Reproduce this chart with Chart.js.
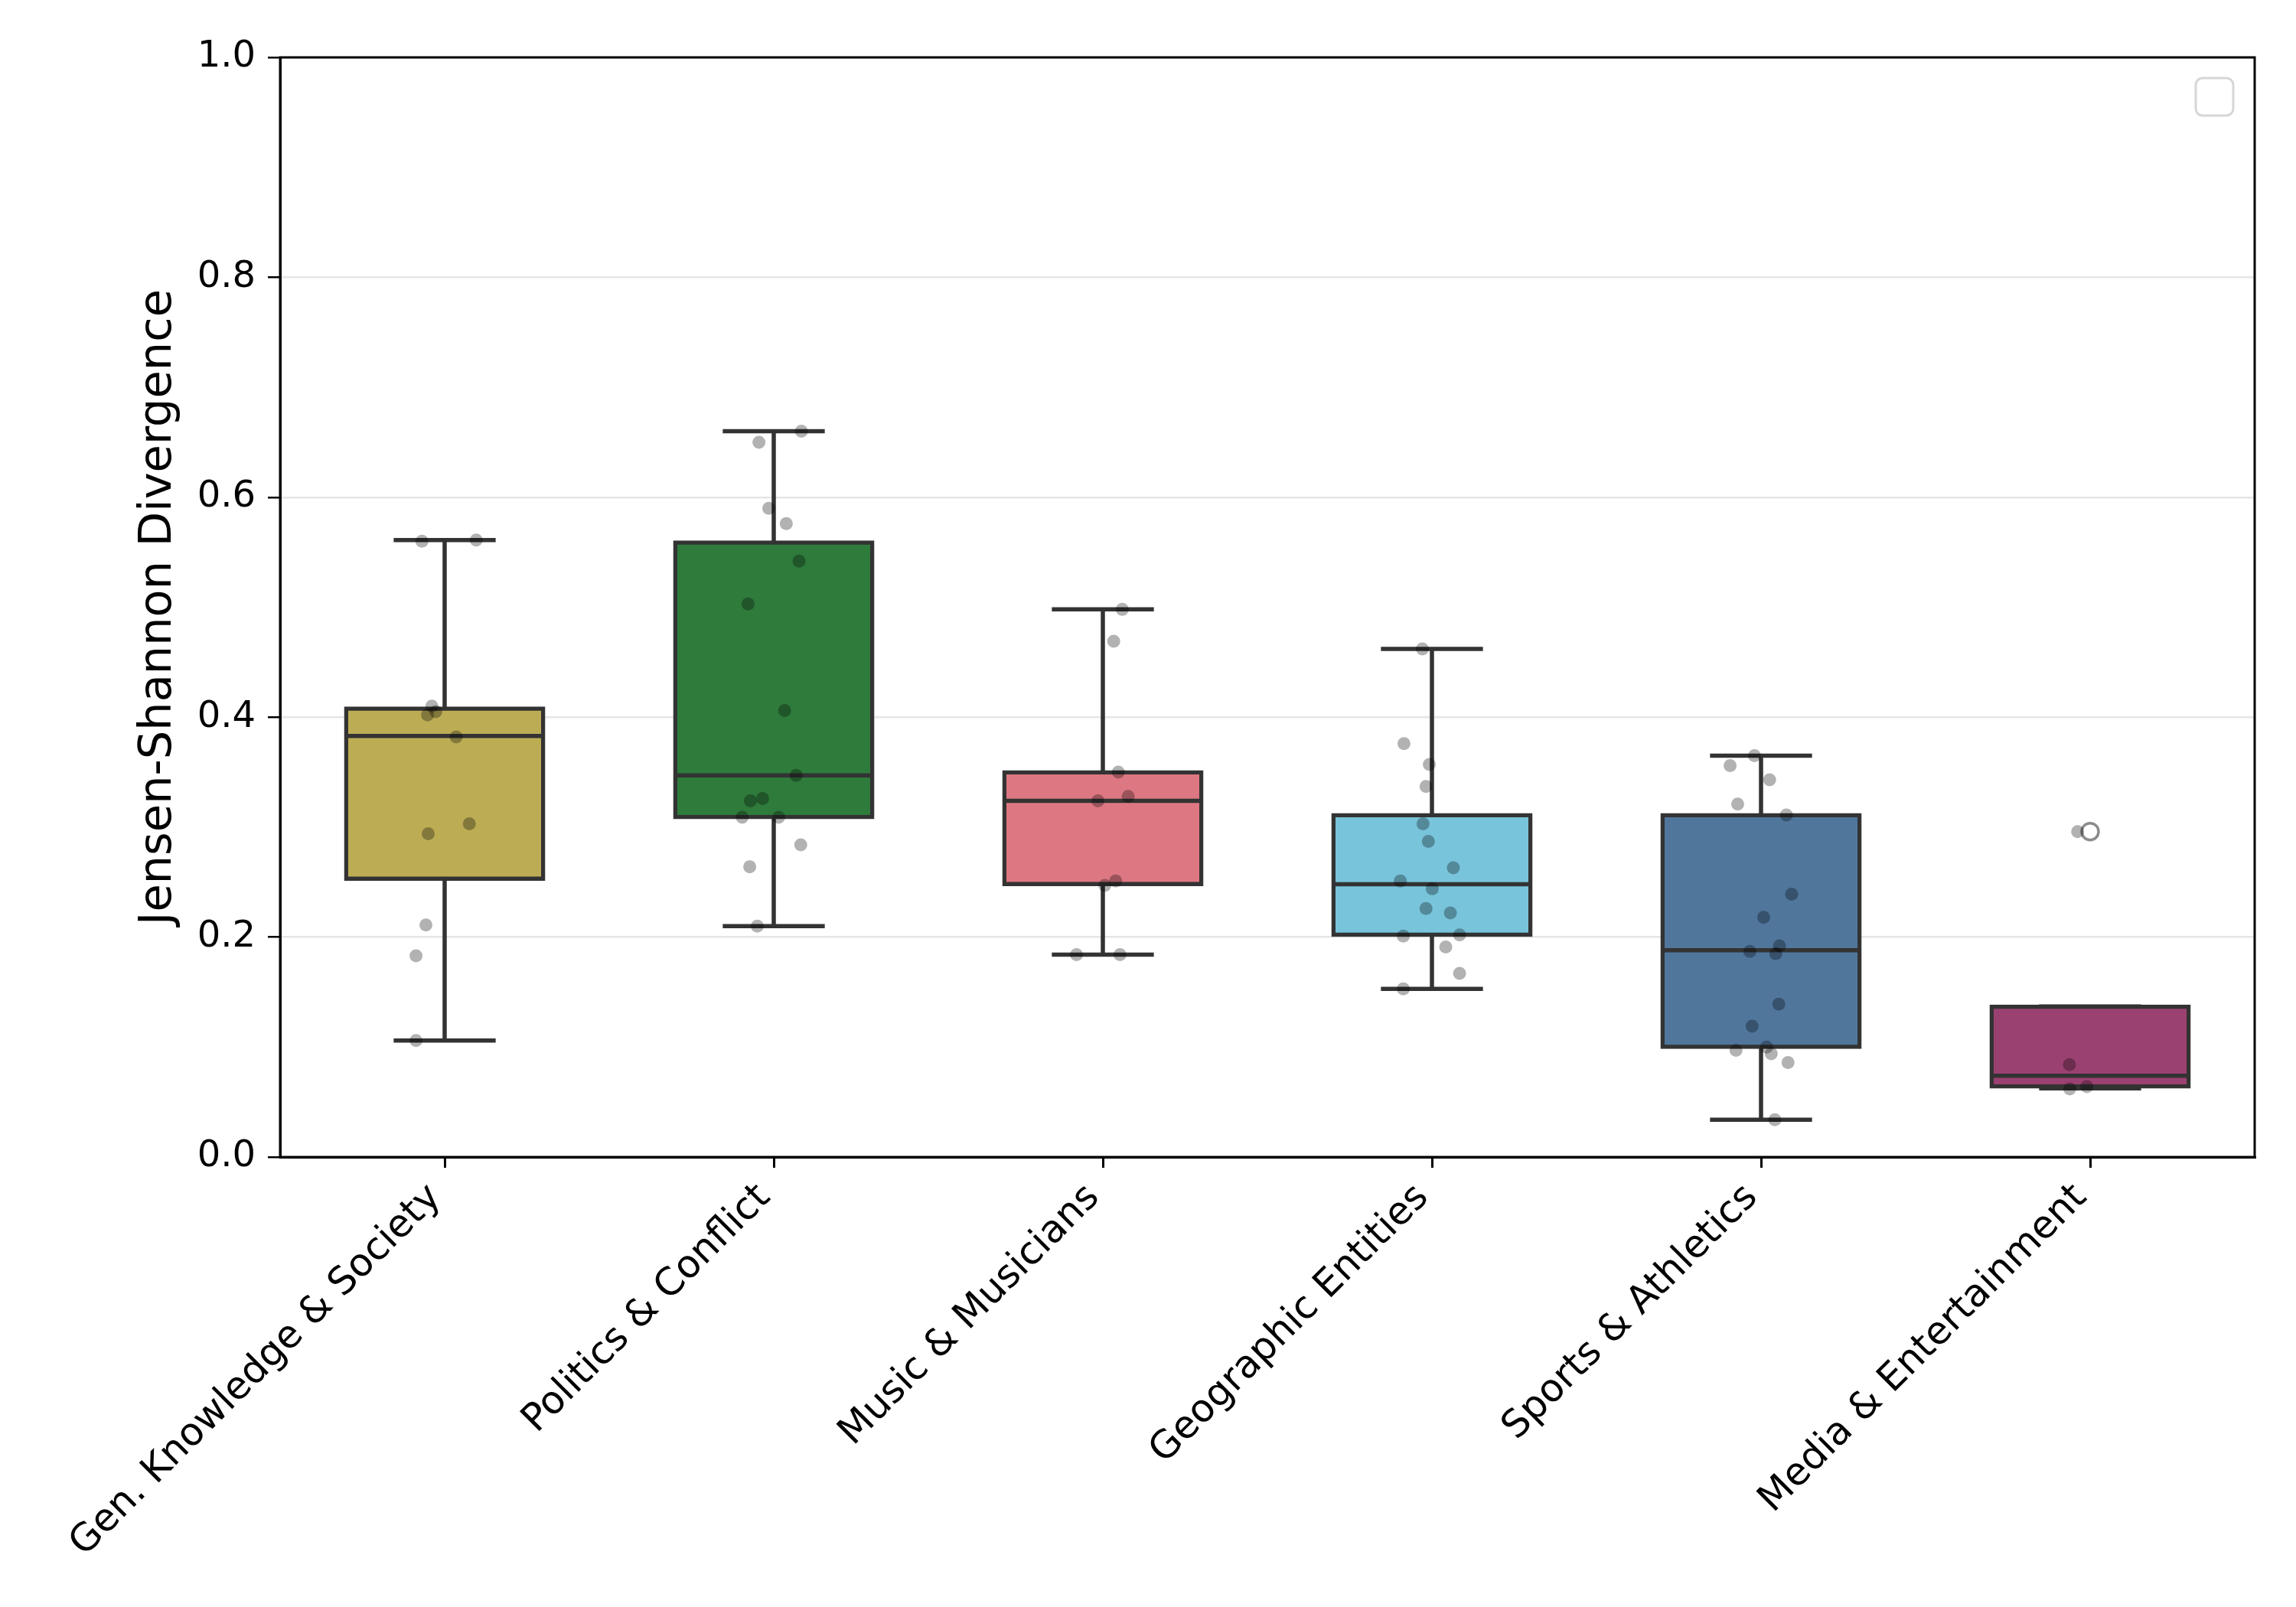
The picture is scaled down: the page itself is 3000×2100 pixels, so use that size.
<!DOCTYPE html>
<html>
<head>
<meta charset="utf-8">
<script src="https://cdn.jsdelivr.net/npm/chart.js@4.4.1/dist/chart.umd.min.js"></script>
<style>
  body { margin: 0; background: #fff; }
  #c { display: block; }
</style>
</head>
<body>
<canvas id="c" width="3000" height="2100" style="width:3000px;height:2100px"></canvas>
<script>
const categories = ['Gen. Knowledge & Society', 'Politics & Conflict', 'Music & Musicians',
  'Geographic Entities', 'Sports & Athletics', 'Media & Entertainment'];
const boxColors = ['#bcad55', '#2e7b3c', '#dd7782', '#78c4db', '#50769c', '#9b4172'];

// box statistics
const q1 = [0.253, 0.309, 0.248, 0.202, 0.100, 0.064];
const median = [0.383, 0.347, 0.324, 0.248, 0.188, 0.074];
const q3 = [0.408, 0.559, 0.350, 0.311, 0.311, 0.137];
const whiskerLow = [0.106, 0.210, 0.184, 0.153, 0.034, 0.0625];
const whiskerHigh = [0.561, 0.660, 0.498, 0.462, 0.365, 0.137];
const outliers = [[], [], [], [], [], [0.296]];

// individual scores (strip points) and their horizontal jitter, in category units
const pointValues = [
  [0.560, 0.561, 0.410, 0.402, 0.405, 0.382, 0.294, 0.303, 0.211, 0.183, 0.106],
  [0.650, 0.660, 0.590, 0.576, 0.542, 0.503, 0.406, 0.347, 0.324, 0.326, 0.309, 0.309, 0.284, 0.264, 0.210],
  [0.498, 0.469, 0.350, 0.324, 0.328, 0.247, 0.251, 0.184, 0.184],
  [0.462, 0.376, 0.357, 0.337, 0.303, 0.287, 0.263, 0.251, 0.244, 0.226, 0.222, 0.201, 0.202, 0.191, 0.167, 0.153],
  [0.365, 0.356, 0.343, 0.321, 0.311, 0.239, 0.218, 0.192, 0.187, 0.185, 0.139, 0.119, 0.100, 0.097, 0.094, 0.086, 0.034],
  [0.296, 0.084, 0.062, 0.064]
];
const pointJitter = [
  [-0.069, 0.096, -0.039, -0.052, -0.027, 0.035, -0.050, 0.075, -0.057, -0.087, -0.087],
  [-0.045, 0.084, -0.015, 0.038, 0.077, -0.078, 0.033, 0.068, -0.071, -0.034, -0.096, 0.015, 0.082, -0.073, -0.050],
  [0.059, 0.033, 0.047, -0.015, 0.077, 0.006, 0.039, -0.080, 0.052],
  [-0.029, -0.085, -0.008, -0.018, -0.027, -0.011, 0.065, -0.096, 0.001, -0.018, 0.056, -0.087, 0.084, 0.042, 0.084, -0.087],
  [-0.020, -0.094, 0.026, -0.071, 0.077, 0.093, 0.008, 0.056, -0.034, 0.045, 0.054, -0.027, 0.017, -0.076, 0.031, 0.082, 0.042],
  [-0.038, -0.063, -0.062, -0.010]
];
const yTicks = [0, 0.2, 0.4, 0.6, 0.8, 1.0];

const LINE = '#333333';
const FONT = 'DejaVu Sans';

const stripData = [];
pointValues.forEach((vals, i) => {
  vals.forEach((v, k) => stripData.push({ x: i + pointJitter[i][k], y: v }));
});
const outlierData = [];
outliers.forEach((vals, i) => vals.forEach(v => outlierData.push({ x: i, y: v })));

// whiskers + caps under the boxes, medians on top of them
const boxParts = {
  id: 'boxParts',
  beforeDatasetsDraw(chart) {
    const ctx = chart.ctx, x = chart.scales.x, y = chart.scales.y;
    const capHalf = (x.getPixelForValue(1) - x.getPixelForValue(0)) * 0.155;
    ctx.save();
    ctx.strokeStyle = LINE;
    ctx.lineWidth = 5.5;
    ctx.lineCap = 'butt';
    categories.forEach((c, i) => {
      const cx = x.getPixelForValue(i);
      ctx.beginPath();
      ctx.moveTo(cx, y.getPixelForValue(whiskerLow[i]));
      ctx.lineTo(cx, y.getPixelForValue(q1[i]));
      ctx.moveTo(cx, y.getPixelForValue(q3[i]));
      ctx.lineTo(cx, y.getPixelForValue(whiskerHigh[i]));
      ctx.moveTo(cx - capHalf, y.getPixelForValue(whiskerLow[i]));
      ctx.lineTo(cx + capHalf, y.getPixelForValue(whiskerLow[i]));
      ctx.moveTo(cx - capHalf, y.getPixelForValue(whiskerHigh[i]));
      ctx.lineTo(cx + capHalf, y.getPixelForValue(whiskerHigh[i]));
      ctx.stroke();
    });
    ctx.restore();
  },
  afterDatasetDraw(chart, args) {
    if (args.meta.type !== 'bar') return;
    const ctx = chart.ctx, y = chart.scales.y;
    ctx.save();
    ctx.strokeStyle = LINE;
    ctx.lineWidth = 5.5;
    args.meta.data.forEach((bar, i) => {
      const half = bar.width / 2;
      const py = y.getPixelForValue(median[i]);
      ctx.beginPath();
      ctx.moveTo(bar.x - half, py);
      ctx.lineTo(bar.x + half, py);
      ctx.stroke();
    });
    ctx.restore();
  },
  afterDraw(chart) {
    const ctx = chart.ctx, a = chart.chartArea;
    ctx.save();
    // frame on all four sides
    ctx.strokeStyle = '#000';
    ctx.lineWidth = 3;
    ctx.strokeRect(a.left, a.top, a.right - a.left, a.bottom - a.top);
    // empty legend frame
    ctx.strokeStyle = '#d6d6d6';
    ctx.lineWidth = 3;
    ctx.beginPath();
    ctx.roundRect(a.right - 77, a.top + 27, 49, 49, 9);
    ctx.stroke();
    ctx.restore();
  }
};

new Chart(document.getElementById('c'), {
  data: {
    labels: categories,
    datasets: [
      {
        type: 'scatter',
        data: outlierData,
        xAxisID: 'xj',
        pointRadius: 11,
        pointBackgroundColor: 'rgba(0,0,0,0)',
        pointBorderColor: '#8c8c8c',
        pointBorderWidth: 3.5,
        order: 1
      },
      {
        type: 'scatter',
        data: stripData,
        xAxisID: 'xj',
        pointRadius: 8.5,
        pointBackgroundColor: 'rgba(0,0,0,0.3)',
        pointBorderWidth: 0,
        order: 0
      },
      {
        type: 'bar',
        data: q1.map((v, i) => [v, q3[i]]),
        backgroundColor: boxColors,
        borderColor: LINE,
        borderWidth: 5.5,
        borderSkipped: false,
        inflateAmount: 2.5,
        grouped: false,
        barPercentage: 0.6,
        categoryPercentage: 1.0,
        order: 2
      }
    ]
  },
  options: {
    responsive: false,
    devicePixelRatio: 1,
    animation: false,
    layout: { padding: { left: 0, top: 75, right: 54, bottom: 0 } },
    plugins: { legend: { display: false }, tooltip: { enabled: false } },
    scales: {
      x: {
        type: 'category',
        offset: true,
        afterFit(scale) { scale.height = 588; },
        grid: { offset: false, drawOnChartArea: false, tickColor: '#000', tickLength: 14, lineWidth: 3 },
        border: { color: '#000', width: 3 },
        ticks: {
          color: '#000',
          font: { family: FONT, size: 50 },
          minRotation: 45,
          maxRotation: 45,
          padding: 10,
          labelOffset: -12,
          autoSkip: false
        }
      },
      xj: {
        type: 'linear',
        display: false,
        min: -0.5,
        max: categories.length - 0.5
      },
      y: {
        min: 0,
        max: 1,
        afterFit(scale) { scale.width = 366; },
        afterBuildTicks(scale) { scale.ticks = yTicks.map(v => ({ value: v })); },
        grid: { color: '#e5e5e5', tickColor: '#000', tickLength: 16, lineWidth: 2.5 },
        border: { color: '#000', width: 3 },
        ticks: {
          color: '#000',
          font: { family: FONT, size: 48 },
          padding: 16,
          callback: v => v.toFixed(1)
        },
        title: {
          display: true,
          text: 'Jensen-Shannon Divergence',
          color: '#000',
          font: { family: FONT, size: 59 },
          padding: { top: 172, bottom: 0 }
        }
      }
    }
  },
  plugins: [boxParts]
});
</script>
</body>
</html>
